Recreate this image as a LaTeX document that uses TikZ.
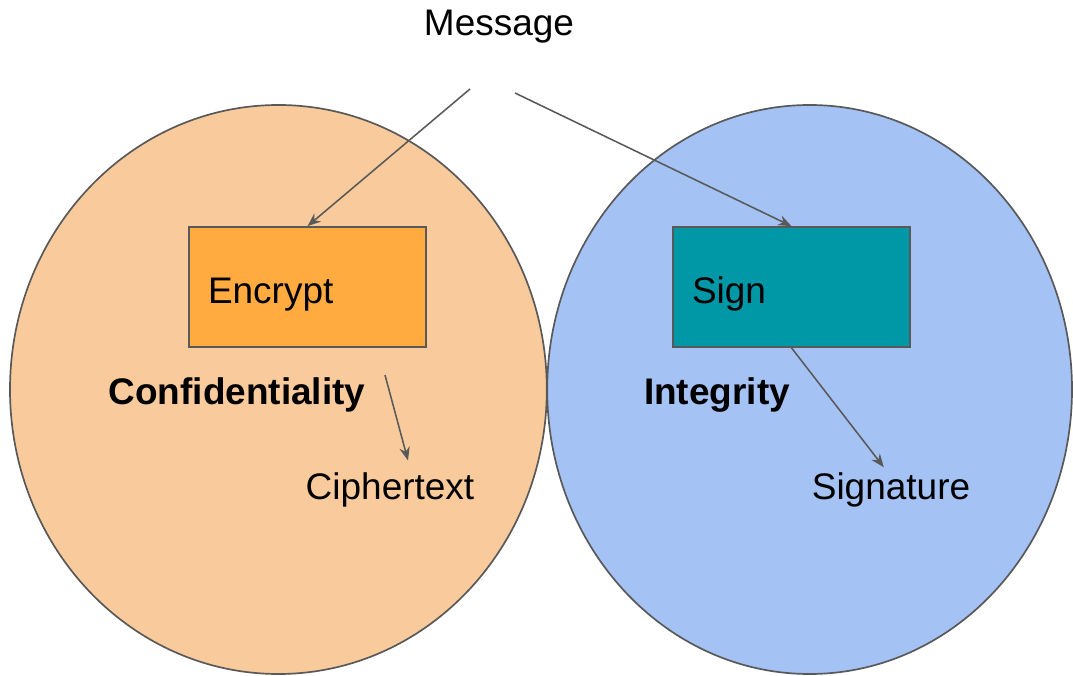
\documentclass[tikz,border=0pt]{standalone}
\usepackage{fontspec}
\setmainfont{Liberation Sans}
\usepackage{xcolor}
\usepackage{tikz}
\usetikzlibrary{arrows.meta, positioning}
\definecolor{confbg}{HTML}{F9CB9C}
\definecolor{integbg}{HTML}{A4C2F4}
\definecolor{encfill}{HTML}{FFAB40}
\definecolor{signfill}{HTML}{0097A7}
\definecolor{linegray}{HTML}{595959}
% box text sits a little below the middle of its box
\newcommand{\boxtext}[1]{\raisebox{-0.18cm}[\height][\depth]{#1}}

\begin{document}
\begin{tikzpicture}[
    font=\fontsize{26.3}{31}\selectfont,
    box/.style={rectangle, draw=linegray, line width=1.2pt, text width=4.975cm, inner xsep=0.475cm, minimum height=3cm, align=left},
    label/.style={anchor=base, inner sep=0.3333em},
    arrow/.style={-{Stealth[length=9.5pt, width=7.5pt]}, draw=linegray, line width=1.1pt}
]
\useasboundingbox (0,0) rectangle (26.825,-16.9);

% the two overlapping goals
\filldraw[fill=confbg, draw=linegray, line width=1.2pt] (6.96,-9.7375) ellipse [x radius=6.71, y radius=7.1125];
\filldraw[fill=integbg, draw=linegray, line width=1.2pt] (20.24,-9.7375) ellipse [x radius=6.56, y radius=7.1125];

\node[label] (msg) at (12.475,-0.9) {Message};
\coordinate (msgL) at (11.75,-2.225);
\coordinate (msgR) at (12.875,-2.325);

\node[box, fill=encfill] (enc) at (7.6875,-7.175) {\boxtext{Encrypt}};
\node[box, fill=signfill] (sign) at (19.7875,-7.175) {\boxtext{Sign}};

\node[label, font=\fontsize{26.3}{31}\selectfont\bfseries] (conf) at (5.925,-10.1) {Confidentiality};
\node[label, font=\fontsize{26.3}{31}\selectfont\bfseries] (integ) at (17.925,-10.1) {Integrity};

\node[label] (ctext) at (9.75,-12.475) {Ciphertext};
\node[label] (sig) at (22.275,-12.475) {Signature};
\coordinate (c1) at (9.625,-9.375);

\draw[arrow] (msgL) -- (enc.north);
\draw[arrow] (msgR) -- (sign.north);
\draw[arrow] (c1) -- ([xshift=0.45cm, yshift=0.17cm]ctext.north);
\draw[arrow] (sign.south) -- ([xshift=-0.18cm]sig.north);

\end{tikzpicture}
\end{document}
